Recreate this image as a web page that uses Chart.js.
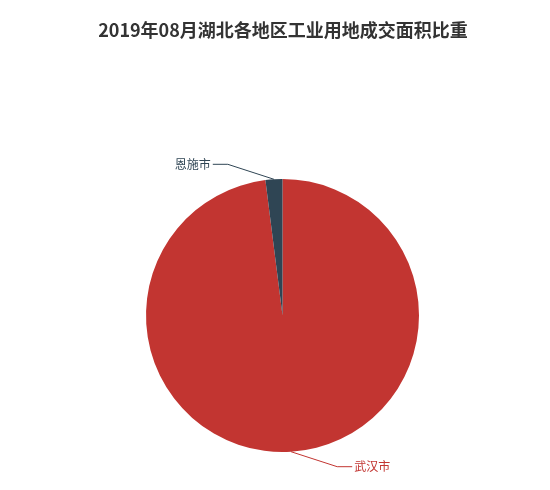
<!DOCTYPE html>
<html>
<head>
<meta charset="utf-8">
<script src="https://cdn.jsdelivr.net/npm/chart.js@4/dist/chart.umd.min.js"></script>
<style>
  html, body { margin: 0; padding: 0; background: #fff; }
  #wrap { width: 550px; height: 490px; }
</style>
</head>
<body>
<div id="wrap"><canvas id="chart" width="550" height="490"></canvas></div>
<script>
const chartTitle = '2019年08月湖北各地区工业用地成交面积比重';
const regions = ['武汉市', '恩施市'];
const shares = [98.0, 2.0];
const sliceColors = ['#c23531', '#2f4554'];

const FONT = '"Noto Sans CJK SC", "Microsoft YaHei", sans-serif';

// echarts-like outside labels with two-segment leader lines
const pieLabels = {
  id: 'pieLabels',
  afterDatasetsDraw(chart) {
    const ctx = chart.ctx;
    const meta = chart.getDatasetMeta(0);
    const len = 15, len2 = 15;
    ctx.save();
    ctx.font = '12px ' + FONT;
    ctx.textBaseline = 'middle';
    meta.data.forEach((arc, i) => {
      const { x: cx, y: cy, startAngle, endAngle, outerRadius: r } = arc.getProps(['x', 'y', 'startAngle', 'endAngle', 'outerRadius'], true);
      const mid = (startAngle + endAngle) / 2;
      const dir = Math.cos(mid) >= 0 ? 1 : -1;
      const sx = cx + r * Math.cos(mid);
      const sy = cy + r * Math.sin(mid);
      const ey = cy + (r + len) * Math.sin(mid);
      const dy = Math.abs(ey - cy);
      const R = r + len + len2;
      const dx = dy < r + len ? Math.sqrt(R * R - dy * dy) : Math.abs(sx - cx);
      const lx = cx + dx * dir;
      const ex = lx - dir * len2;
      const color = sliceColors[i];
      ctx.strokeStyle = color;
      ctx.lineWidth = 1;
      ctx.beginPath();
      ctx.moveTo(sx, sy);
      ctx.lineTo(ex, ey);
      ctx.lineTo(lx, ey);
      ctx.stroke();
      ctx.fillStyle = color;
      ctx.textAlign = dir > 0 ? 'left' : 'right';
      ctx.fillText(regions[i], lx + dir * 2, ey);
    });
    ctx.restore();
  }
};

const drawTitle = {
  id: 'drawTitle',
  afterDraw(chart) {
    const ctx = chart.ctx;
    ctx.save();
    ctx.font = 'bold 18px ' + FONT;
    ctx.fillStyle = '#333';
    ctx.textAlign = 'center';
    ctx.textBaseline = 'middle';
    ctx.fillText(chartTitle, 283, 30);
    ctx.restore();
  }
};

new Chart(document.getElementById('chart'), {
  type: 'pie',
  data: {
    labels: regions,
    datasets: [{
      data: shares,
      backgroundColor: sliceColors,
      borderWidth: 0
    }]
  },
  options: {
    responsive: false,
    animation: false,
    devicePixelRatio: 1,
    layout: { padding: { left: 146, right: 131, top: 179, bottom: 38 } },
    plugins: {
      legend: { display: false },
      tooltip: { enabled: false },
      title: { display: false }
    }
  },
  plugins: [pieLabels, drawTitle]
});
</script>
</body>
</html>
